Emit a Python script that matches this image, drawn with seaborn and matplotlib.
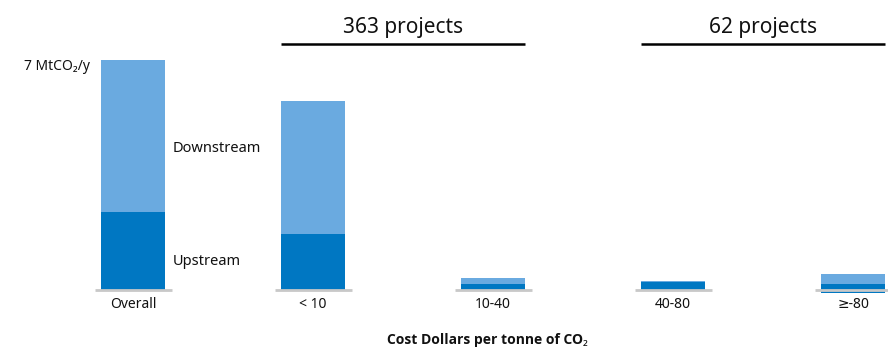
import matplotlib
matplotlib.use("Agg")
import matplotlib.pyplot as plt
import seaborn as sns
import pandas as pd

# Emissions by cost band, MtCO2 per year
categories = ["Overall", "< 10", "10-40", "40-80", "≥-80"]
upstream = [2.39, 1.72, 0.21, 0.25, 0.19]
downstream = [4.61, 4.03, 0.16, 0.04, 0.31]
below_zero = [0.0, 0.0, 0.0, 0.0, -0.07]

groups = [("363 projects", 1, 2), ("62 projects", 3, 4)]

sns.set_theme(style="white")
plt.rcParams["font.family"] = ["Noto Sans", "DejaVu Sans"]

LIGHT = "#6AAAE0"
DARK = "#0077C2"
GREY = "#C8C8C8"

df = pd.DataFrame({
    "category": categories,
    "upstream": upstream,
    "total": [u + d for u, d in zip(upstream, downstream)],
    "below": below_zero,
})

fig = plt.figure(figsize=(8.88, 3.5), dpi=100)
ax = fig.add_axes([0, 0, 1, 1])

bw = 0.356
bar_kw = dict(saturation=1, width=bw, ax=ax, linewidth=0, edgecolor="none")
sns.barplot(data=df, x="category", y="total", color=LIGHT, zorder=2, **bar_kw)
sns.barplot(data=df, x="category", y="upstream", color=DARK, zorder=3, **bar_kw)
sns.barplot(data=df, x="category", y="below", color=DARK, zorder=3, **bar_kw)

ax.set_xlim(-0.739, 4.194)
ax.set_ylim(-1.807, 8.822)
ax.axis("off")

# grey baseline under each bar, and category names
for i, name in enumerate(categories):
    ax.plot([i - 0.214, i + 0.214], [0, 0], color=GREY, lw=2.0,
            solid_capstyle="butt", zorder=4)
    ax.text(i, -0.44, name, ha="center", va="center", fontsize=10, color="#111111")

# bracket headers over project groups
for label, a, b in groups:
    ax.plot([a - bw / 2, b + bw / 2], [7.49, 7.49], color="black", lw=1.8,
            solid_capstyle="butt", zorder=4, clip_on=False)
    ax.text((a + b) / 2, 8.0, label, ha="center", va="center", fontsize=15,
            color="#111111")

ax.text(-0.239, 6.79, "7 MtCO₂/y", ha="right", va="center", fontsize=10,
        color="#111111")
ax.text(0.222, 4.32, "Downstream", ha="left", va="center", fontsize=10.5,
        color="#111111")
ax.text(0.222, 0.87, "Upstream", ha="left", va="center", fontsize=10.5,
        color="#111111")
ax.text(1.967, -1.51, "Cost Dollars per tonne of CO₂", ha="center",
        va="center", fontsize=10, fontweight="bold", color="#111111",
        family=["Open Sans", "Noto Sans", "DejaVu Sans"])

fig.savefig("out.png", dpi=100)
